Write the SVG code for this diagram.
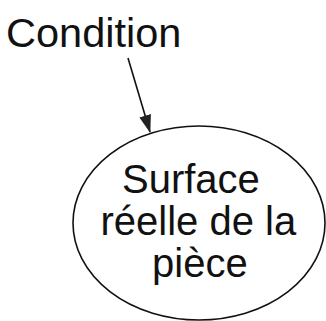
<svg xmlns="http://www.w3.org/2000/svg" width="326" height="321" viewBox="0 0 326 321">
<style>
text{font-family:"Liberation Sans",Arial,sans-serif;fill:#111}
.shape{fill:none;stroke:#111;stroke-width:1.6}
</style>
<defs>
<marker id="ah" markerWidth="18" markerHeight="12" refX="17" refY="6" orient="auto" markerUnits="userSpaceOnUse">
<path d="M0,0 L18,6 L0,12 Z" fill="#222"/>
</marker>
</defs>
<rect width="326" height="321" fill="#fff"/>
<g id="condition">
<text x="6" y="47" font-size="41.5">Condition</text>
</g>
<g id="surface">
<ellipse class="shape" cx="199" cy="223" rx="126" ry="97"/>
<text x="122" y="193" font-size="40">Surface</text>
<text x="100.5" y="235" font-size="40">réelle de la</text>
<text x="152" y="277" font-size="40">pièce</text>
</g>
<g id="connectors">
<line class="shape" x1="128" y1="58" x2="150" y2="132" marker-end="url(#ah)"/>
</g>
</svg>
